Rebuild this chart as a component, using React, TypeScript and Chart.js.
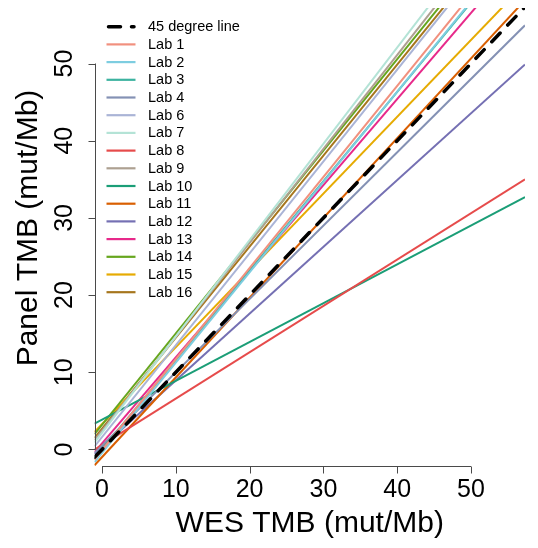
import React, { useEffect, useRef } from "react";
import { Chart, registerables } from "chart.js";

Chart.register(...registerables);

// ---- data ----
const seriesLabels = [
  "45 degree line", "Lab 1", "Lab 2", "Lab 3", "Lab 4", "Lab 6", "Lab 7", "Lab 8",
  "Lab 9", "Lab 10", "Lab 11", "Lab 12", "Lab 13", "Lab 14", "Lab 15", "Lab 16",
];
const seriesColors = [
  "#000000", "#F1907E", "#7DCDE0", "#3DB3A0", "#8491B4", "#AAB4D6", "#B4E3D6", "#E64B4B",
  "#ADA091", "#1B9E77", "#D95F02", "#7570B3", "#E7298A", "#66A61E", "#E6AB02", "#A6761D",
];
// WES TMB at the left and right edge of the plotting region
const X_LEFT = -1.02;
const X_RIGHT = 57.32;
// Panel TMB of each fitted line at X_LEFT and at X_RIGHT
const yAtLeft = [
  -1.02, -1.3, -1.64, -1.18, -0.47, 0.4, 0.9, -0.01,
  1.2, 3.36, -2.05, -0.58, -0.34, 1.99, 2.29, 1.5,
];
const yAtRight = [
  57.32, 67.54, 66.61, 66.38, 54.95, 69.82, 73.68, 34.99,
  72.18, 32.7, 58.21, 49.88, 64.71, 71.07, 60.33, 70.28,
];
const Y_BOTTOM = -2.14;
const Y_TOP = 57.19;
const xTicks = [0, 10, 20, 30, 40, 50];
const yTicks = [0, 10, 20, 30, 40, 50];
const xTitle = "WES TMB (mut/Mb)";
const yTitle = "Panel TMB (mut/Mb)";

const FONT = '"Liberation Sans", Arial, Helvetica, sans-serif';

const axesPlugin = {
  id: "rAxes",
  afterDraw(chart: any) {
    const ctx = chart.ctx as CanvasRenderingContext2D;
    const xs = chart.scales.x;
    const ys = chart.scales.y;
    const { left, right, bottom } = chart.chartArea;
    ctx.save();
    ctx.strokeStyle = "#4a4a4a";
    ctx.lineWidth = 1;
    // y axis
    ctx.beginPath();
    const ax = Math.round(left) + 0.5;
    ctx.moveTo(ax, ys.getPixelForValue(yTicks[0]));
    ctx.lineTo(ax, ys.getPixelForValue(yTicks[yTicks.length - 1]));
    yTicks.forEach((t) => {
      const py = Math.round(ys.getPixelForValue(t)) + 0.5;
      ctx.moveTo(ax, py);
      ctx.lineTo(ax - 7, py);
    });
    ctx.stroke();
    // x axis
    const ay = Math.round(bottom) + 0.5;
    ctx.beginPath();
    ctx.moveTo(xs.getPixelForValue(xTicks[0]), ay);
    ctx.lineTo(xs.getPixelForValue(xTicks[xTicks.length - 1]), ay);
    xTicks.forEach((t) => {
      const px = Math.round(xs.getPixelForValue(t)) + 0.5;
      ctx.moveTo(px, ay);
      ctx.lineTo(px, ay + 7);
    });
    ctx.stroke();

    // tick labels
    ctx.fillStyle = "#000";
    ctx.font = `25px ${FONT}`;
    ctx.textAlign = "center";
    ctx.textBaseline = "alphabetic";
    xTicks.forEach((t) => {
      ctx.fillText(String(t), xs.getPixelForValue(t), bottom + 31);
    });
    yTicks.forEach((t) => {
      ctx.save();
      ctx.translate(left - 23, ys.getPixelForValue(t));
      ctx.rotate(-Math.PI / 2);
      ctx.fillText(String(t), 0, 0);
      ctx.restore();
    });

    // axis titles
    ctx.font = `30px ${FONT}`;
    ctx.fillText(xTitle, (left + right) / 2, bottom + 66);
    ctx.save();
    ctx.translate(37, 228);
    ctx.rotate(-Math.PI / 2);
    ctx.fillText(yTitle, 0, 0);
    ctx.restore();

    // legend
    ctx.font = `14.5px ${FONT}`;
    ctx.textAlign = "left";
    ctx.textBaseline = "middle";
    chart.data.datasets.forEach((ds: any, i: number) => {
      const cy = 26.7 + 17.7 * i;
      ctx.save();
      ctx.strokeStyle = ds.borderColor;
      ctx.lineWidth = i === 0 ? 3.5 : 2.2;
      ctx.lineCap = i === 0 ? "round" : "butt";
      if (i === 0) ctx.setLineDash([12, 11]);
      ctx.beginPath();
      ctx.moveTo(i === 0 ? 108.5 : 106.5, cy);
      ctx.lineTo(i === 0 ? 134 : 135.5, cy);
      ctx.stroke();
      ctx.restore();
      ctx.fillStyle = "#000";
      ctx.fillText(ds.label, 148, cy + 0.5);
    });
    ctx.restore();
  },
};

export default function App() {
  const canvasRef = useRef<HTMLCanvasElement | null>(null);

  useEffect(() => {
    const canvas = canvasRef.current;
    if (!canvas) return;
    const datasets = seriesLabels.map((label, i) => ({
      label,
      data: [
        { x: X_LEFT, y: yAtLeft[i] },
        { x: X_RIGHT, y: yAtRight[i] },
      ],
      borderColor: seriesColors[i],
      backgroundColor: seriesColors[i],
      borderWidth: i === 0 ? 3.5 : 2,
      borderDash: i === 0 ? [12, 11] : [],
      borderCapStyle: i === 0 ? "round" : "butt",
      pointRadius: 0,
      fill: false,
      tension: 0,
    }));
    const chart = new Chart(canvas, {
      type: "line",
      data: { datasets } as any,
      options: {
        animation: false,
        responsive: false,
        devicePixelRatio: 1,
        layout: { padding: { left: 94.5, right: 13, top: 8, bottom: 82 } },
        plugins: { legend: { display: false }, tooltip: { enabled: false } },
        scales: {
          x: { type: "linear", min: X_LEFT, max: X_RIGHT, display: false },
          y: { type: "linear", min: Y_BOTTOM, max: Y_TOP, display: false },
        },
      } as any,
      plugins: [axesPlugin],
    });
    return () => chart.destroy();
  }, []);

  return (
    <div style={{ position: "absolute", left: 0, top: 0, width: 538, height: 548, background: "#fff" }}>
      <canvas ref={canvasRef} width={538} height={548} />
    </div>
  );
}
